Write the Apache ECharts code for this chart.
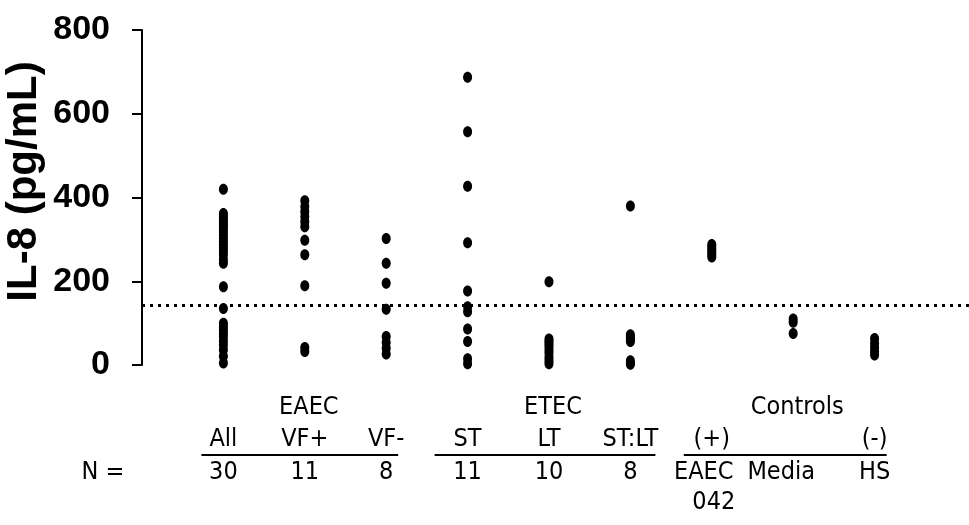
<!DOCTYPE html>
<html><head><meta charset="utf-8">
<script src="https://cdn.jsdelivr.net/npm/echarts@6/dist/echarts.min.js"></script>
<style>html,body{margin:0;padding:0;background:#fff}#c{width:969px;height:525px}</style>
</head><body><div id="c"></div>
<script>
// ---- data ----
const categories = ["All", "VF+", "VF-", "ST", "LT", "ST:LT", "EAEC 042", "Media", "HS"];
const eaecAll = [420, 362, 356, 350, 344, 338, 332, 326, 318, 310, 302, 295, 287, 280, 272, 263, 252, 243, 187, 135, 100, 92, 84, 76, 68, 58, 48, 36, 21, 5];
const eaecVFpos = [392, 378, 366, 354, 342, 330, 298, 263, 189, 42, 32];
const eaecVFneg = [302, 243, 195, 133, 68, 54, 40, 26];
const etecST = [687, 557, 427, 292, 177, 139, 127, 86, 56, 15, 3];
const etecLT = [199, 62, 56, 50, 44, 36, 28, 18, 10, 3];
const etecSTLT = [380, 72, 66, 60, 56, 10, 5, 2];
const ctrlEAEC042 = [288, 282, 276, 270, 264, 258];
const ctrlMedia = [110, 102, 75];
const ctrlHS = [63, 52, 42, 32, 24];
const seriesValues = [eaecAll, eaecVFpos, eaecVFneg, etecST, etecLT, etecSTLT, ctrlEAEC042, ctrlMedia, ctrlHS];
const headerLabels = ["All", "VF+", "VF-", "ST", "LT", "ST:LT", "(+)", "", "(-)"];
const countLabels = ["30", "11", "8", "11", "10", "8", "EAEC", "Media", "HS"];
const extraLabels = ["", "", "", "", "", "", "042", "", ""];
const groupNames = ["EAEC", "ETEC", "Controls"];
const groupFirst = [0, 3, 6];
const groupLast = [2, 5, 8];
const yTicks = [0, 200, 400, 600, 800];
const cutoff = 143;
const yTitle = "IL-8 (pg/mL)";
const nLabel = "N =";

// ---- chart ----
const narrow = "'DejaVu Sans Condensed', 'Liberation Sans', Arial, sans-serif";
const chart = echarts.init(document.getElementById('c'), null, {renderer: 'canvas'});
const points = [];
seriesValues.forEach((vals, i) => vals.forEach(v => points.push([i + 1, v])));

chart.setOption({
  animation: false,
  backgroundColor: '#fff',
  grid: {left: 142, right: 0, top: 30, bottom: 160, containLabel: false, outerBoundsMode: 'none'},
  xAxis: {type: 'value', min: 0, max: 10.16, show: false},
  yAxis: {
    type: 'value', min: yTicks[0], max: yTicks[yTicks.length - 1], interval: 200,
    name: yTitle, nameLocation: 'middle', nameRotate: 90, nameGap: 97, nameMoveOverlap: false,
    nameTextStyle: {fontFamily: "'Liberation Sans', Arial, sans-serif", fontWeight: 'bold', fontSize: 42, color: '#000', padding: [0, 0, 0, 32]},
    axisLine: {show: true, lineStyle: {color: '#000', width: 2}},
    axisTick: {show: true, length: 10, lineStyle: {color: '#000', width: 2}},
    axisLabel: {margin: 32, fontSize: 34, fontWeight: 'bold', fontFamily: "'Liberation Sans', Arial, sans-serif", color: '#000'},
    splitLine: {show: false}
  },
  series: [{
    type: 'scatter',
    data: points,
    symbol: 'path://M0,6 C0,2.7 2.2,0 5,0 C7.8,0 10,2.7 10,6 C10,9.3 7.8,12 5,12 C2.2,12 0,9.3 0,6 Z',
    symbolSize: [9, 11],
    itemStyle: {color: '#000', opacity: 1},
    markLine: {
      silent: true, symbol: 'none', label: {show: false},
      lineStyle: {color: '#000', width: 3, type: [3, 5], opacity: 1},
      data: [{yAxis: cutoff}]
    }
  }]
});

const px = i => chart.convertToPixel({xAxisIndex: 0}, i + 1);
const labelFont = (size) => ({fontSize: size, fontFamily: narrow, fill: '#000', align: 'center', verticalAlign: 'middle', textAlign: 'center', textVerticalAlign: 'middle'});
const g = [];
const rowTitle = 407, rowHead = 439, rowLine = 455, rowCount = 472, rowExtra = 502;
const lineOff = [[-22, 12], [-33, 25], [-28, 12]];
groupNames.forEach((name, k) => {
  const x1 = px(groupFirst[k]), x2 = px(groupLast[k]);
  g.push({type: 'text', x: (x1 + x2) / 2 + 4, y: rowTitle, style: Object.assign({text: name}, labelFont(25))});
  g.push({type: 'line', shape: {x1: x1 + lineOff[k][0], y1: rowLine, x2: x2 + lineOff[k][1], y2: rowLine}, style: {stroke: '#000', lineWidth: 2}});
});
categories.forEach((c, i) => {
  const x = px(i);
  if (headerLabels[i]) g.push({type: 'text', x: x, y: rowHead, style: Object.assign({text: headerLabels[i]}, labelFont(25))});
  if (countLabels[i]) g.push({type: 'text', x: x - (i === 6 ? 8 : 0) - (i === 7 ? 12 : 0), y: rowCount, style: Object.assign({text: countLabels[i]}, labelFont(25))});
  if (extraLabels[i]) g.push({type: 'text', x: x + 2, y: rowExtra, style: Object.assign({text: extraLabels[i]}, labelFont(25))});
});
g.push({type: 'text', x: 103, y: rowCount, style: Object.assign({text: nLabel}, labelFont(25))});
chart.setOption({graphic: g});
</script>
</body></html>
